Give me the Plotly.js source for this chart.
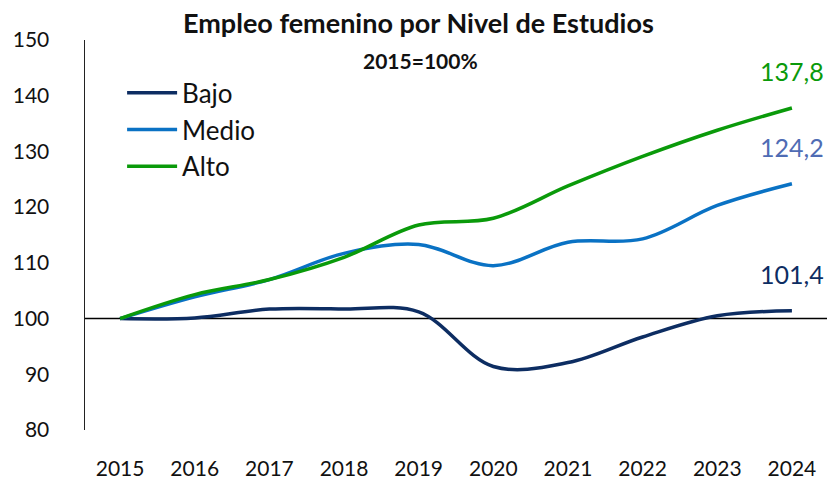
<!DOCTYPE html>
<html>
<head>
<meta charset="utf-8">
<script src="https://cdn.plot.ly/plotly-3.0.1.min.js"></script>
<style>html,body{margin:0;padding:0;background:#fff;}#chart{width:827px;height:482px;}</style>
</head>
<body>
<div id="chart"></div>
<script>
const years = [2015, 2016, 2017, 2018, 2019, 2020, 2021, 2022, 2023, 2024];
const bajo  = [100, 100.1, 101.7, 101.7, 101.2, 91.4, 92.1, 96.7, 100.5, 101.4];
const medio = [100, 103.9, 107.0, 111.7, 113.3, 109.5, 113.7, 114.3, 120.3, 124.2];
const alto  = [100, 104.3, 107.0, 111.0, 116.8, 118.0, 123.8, 129.1, 133.8, 137.8];
const seriesNames = ['Bajo', 'Medio', 'Alto'];
const seriesColors = ['#0d2d62', '#0a72c4', '#0a9a0a'];
const labelColors = ['#0d2d62', '#4f6cb4', '#0a9a0a'];
const yTicks = [80, 90, 100, 110, 120, 130, 140, 150];

const allSeries = [bajo, medio, alto];
const font = 'Lato, "Open Sans", sans-serif';

const traces = allSeries.map((vals, i) => ({
  x: years, y: vals, name: seriesNames[i], type: 'scatter', mode: 'lines',
  line: {color: seriesColors[i], width: 3.5, shape: 'spline', smoothing: 1},
  hoverinfo: 'skip'
}));

const fmt = v => v.toFixed(1).replace('.', ',');
const endAnn = allSeries.map((vals, i) => ({
  x: years[years.length - 1], y: vals[vals.length - 1], xref: 'x', yref: 'y',
  text: fmt(vals[vals.length - 1]), showarrow: false,
  xanchor: 'center', yanchor: 'bottom', yshift: 20,
  font: {family: font, size: 25, color: labelColors[i]}
}));

const layout = {
  width: 827, height: 482,
  margin: {l: 85, r: 0, t: 40, b: 52},
  paper_bgcolor: '#fff', plot_bgcolor: '#fff',
  font: {family: font, color: '#111'},
  showlegend: true,
  legend: {x: 0.05, y: 0.925, xanchor: 'left', yanchor: 'top', bgcolor: 'rgba(0,0,0,0)',
           font: {family: font, size: 26, color: '#111'}, tracegroupgap: 0, itemwidth: 50},
  xaxis: {
    range: [2014.53, 2024.47], tickvals: years, ticktext: years.map(String),
    showgrid: false, zeroline: false, showline: false, ticks: '',
    tickfont: {family: font, size: 21, color: '#111'}, ticklabelstandoff: 24
  },
  yaxis: {
    range: [80, 150], tickvals: yTicks, ticktext: yTicks.map(String),
    showgrid: false, zeroline: false, showline: true, linecolor: '#222', linewidth: 1.5,
    ticks: '', tickfont: {family: font, size: 21, color: '#111'}, ticklabelstandoff: 30
  },
  shapes: [{type: 'line', xref: 'paper', x0: 0, x1: 1, yref: 'y', y0: 100, y1: 100,
            line: {color: '#000', width: 1.5}, layer: 'below'}],
  annotations: [
    {text: '<b>Empleo femenino por Nivel de Estudios</b>', xref: 'paper', yref: 'paper',
     x: 0.45, y: 1, yshift: 18, showarrow: false, xanchor: 'center', yanchor: 'middle',
     font: {family: font, size: 27, color: '#111'}},
    {text: '<b>2015=100%</b>', xref: 'paper', yref: 'paper',
     x: 0.452, y: 1, yshift: -20, showarrow: false, xanchor: 'center', yanchor: 'middle',
     font: {family: font, size: 21, color: '#111'}}
  ].concat(endAnn)
};

Plotly.newPlot('chart', traces, layout, {displayModeBar: false, staticPlot: true});
</script>
</body>
</html>
